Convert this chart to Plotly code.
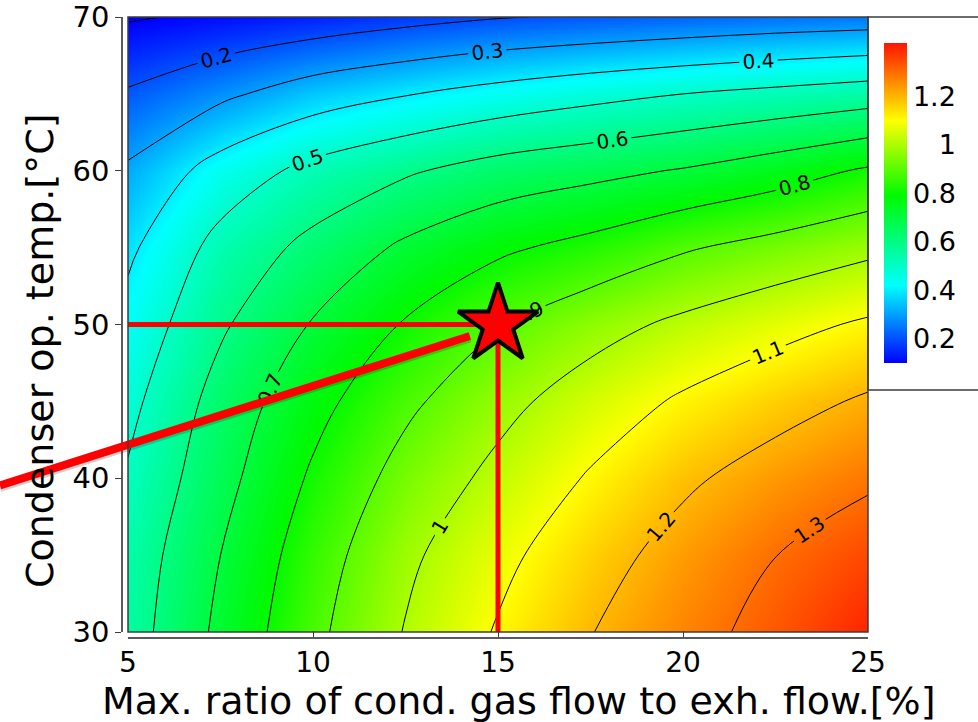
import plotly.graph_objects as go

# ---------------- data ----------------
x_ratio = [5, 7.5, 10, 12.5, 15, 17.5, 20, 22.5, 25]          # Max. ratio [%]
y_temp = [30, 35, 40, 45, 50, 55, 60, 65, 70]                  # Condenser temp [°C]

z_30 = [0.554, 0.722, 0.877, 1.005, 1.108, 1.197, 1.267, 1.330, 1.400]
z_35 = [0.540, 0.700, 0.853, 0.981, 1.075, 1.162, 1.235, 1.299, 1.350]
z_40 = [0.510, 0.667, 0.814, 0.936, 1.025, 1.109, 1.184, 1.240, 1.286]
z_45 = [0.473, 0.638, 0.768, 0.880, 0.971, 1.047, 1.113, 1.165, 1.212]
z_50 = [0.431, 0.586, 0.707, 0.808, 0.893, 0.964, 1.020, 1.069, 1.113]
z_55 = [0.382, 0.533, 0.627, 0.717, 0.783, 0.830, 0.890, 0.934, 0.978]
z_60 = [0.314, 0.441, 0.529, 0.588, 0.641, 0.673, 0.707, 0.754, 0.813]
z_65 = [0.210, 0.280, 0.350, 0.395, 0.435, 0.470, 0.500, 0.525, 0.550]
z_70 = [0.092, 0.115, 0.140, 0.170, 0.195, 0.210, 0.225, 0.240, 0.250]
z_grid = [z_30, z_35, z_40, z_45, z_50, z_55, z_60, z_65, z_70]

contour_start, contour_end, contour_step = 0.1, 1.3, 0.1
color_min, color_max = 0.1, 1.42

x_ticks = [5, 10, 15, 20, 25]
y_ticks = [30, 40, 50, 60, 70]
cbar_ticks = [0.2, 0.4, 0.6, 0.8, 1.0, 1.2]
cbar_text = ["0.2", "0.4", "0.6", "0.8", "\u00a0\u00a0\u00a01", "1.2"]

op_x, op_y = 15, 50                       # selected operating point
leader_from = (14.24, 49.25)              # leader line start (data units)
leader_to = (1.54, 39.53)                 # leader line end (outside the axes)

x_title = "Max. ratio of cond. gas flow to exh. flow.[%]"
y_title = "Condenser op. temp.[°C]"

# ---------------- figure ----------------
FONT = "DejaVu Sans"
W, H = 978, 722
ML, MR, MT, MB = 122, 110, 17, 84
PW, PH = W - ML - MR, H - MT - MB
xdom = [6 / PW, 1.0]
ydom = [6 / PH, 1.0]

jet = [
    [0.0, "rgb(0,0,255)"],
    [0.242, "rgb(0,255,255)"],
    [0.523, "rgb(0,250,0)"],
    [0.758, "rgb(255,255,0)"],
    [1.0, "rgb(255,20,0)"],
]

fig = go.Figure()
fig.add_trace(go.Heatmap(
    x=x_ratio, y=y_temp, z=z_grid, zsmooth="best",
    colorscale=jet, zmin=color_min, zmax=color_max,
    colorbar=dict(
        x=(884 - ML) / PW, xanchor="left",
        y=(H - MB - 203) / PH, yanchor="middle",
        lenmode="pixels", len=320, thickness=23,
        outlinewidth=0, ticks="", xpad=0, ypad=0,
        tickvals=cbar_ticks, ticktext=cbar_text,
        tickfont=dict(family=FONT, size=27, color="black"),
    ),
    hoverinfo="skip",
))
fig.add_trace(go.Contour(
    x=x_ratio, y=y_temp, z=z_grid,
    contours=dict(start=contour_start, end=contour_end, size=contour_step,
                  coloring="none", showlabels=True,
                  labelfont=dict(family=FONT, size=20, color="black")),
    line=dict(color="black", width=1, smoothing=1.0),
    showscale=False, hoverinfo="skip",
))
# crosshair
fig.add_trace(go.Scatter(x=[x_ratio[0], op_x], y=[op_y, op_y], mode="lines",
                         line=dict(color="rgb(255,0,0)", width=5), hoverinfo="skip"))
fig.add_trace(go.Scatter(x=[op_x, op_x], y=[y_temp[0], op_y], mode="lines",
                         line=dict(color="rgb(255,0,0)", width=5), hoverinfo="skip"))
fig.add_trace(go.Scatter(x=[op_x], y=[op_y], mode="markers",
                         marker=dict(symbol="star", size=60, color="rgb(255,0,0)",
                                     line=dict(color="black", width=4)),
                         hoverinfo="skip"))


def px_paper(xv):
    return xdom[0] + (xv - x_ratio[0]) / (x_ratio[-1] - x_ratio[0]) * (xdom[1] - xdom[0])


def py_paper(yv):
    return ydom[0] + (yv - y_temp[0]) / (y_temp[-1] - y_temp[0]) * (ydom[1] - ydom[0])


shapes = []
# leader line shadow + line
shapes.append(dict(type="line", xref="paper", yref="paper",
                   x0=px_paper(leader_from[0]), y0=py_paper(leader_from[1]) - 0.004,
                   x1=px_paper(leader_to[0]), y1=py_paper(leader_to[1]) - 0.004,
                   line=dict(color="rgba(0,0,0,0.18)", width=8)))
shapes.append(dict(type="line", xref="paper", yref="paper",
                   x0=px_paper(leader_from[0]), y0=py_paper(leader_from[1]),
                   x1=px_paper(leader_to[0]), y1=py_paper(leader_to[1]),
                   line=dict(color="rgb(255,0,0)", width=8)))
# plot frame
shapes.append(dict(type="rect", xref="x domain", yref="y domain", x0=0, x1=1, y0=0, y1=1,
                   line=dict(color="rgb(60,60,60)", width=1.5)))
# colorbar box
shapes.append(dict(type="rect", xref="paper", yref="paper",
                   x0=1.0, x1=1.3, y0=(H - MB - 390) / PH, y1=1.0,
                   line=dict(color="rgb(60,60,60)", width=1.5)))

fig.update_layout(
    width=W, height=H,
    margin=dict(l=ML, r=MR, t=MT, b=MB, autoexpand=False),
    paper_bgcolor="white", plot_bgcolor="white",
    showlegend=False,
    font=dict(family=FONT, color="black"),
    shapes=shapes,
    xaxis=dict(domain=xdom, anchor="free", position=0, range=[5, 25],
               tickvals=x_ticks, ticks="inside", ticklen=6, tickcolor="rgb(60,60,60)",
               showline=True, linecolor="rgb(90,90,90)", linewidth=1.5,
               showgrid=False, zeroline=False, automargin=False,
               ticklabeloverflow="allow",
               tickfont=dict(family=FONT, size=28, color="black")),
    yaxis=dict(domain=ydom, anchor="free", position=0, range=[30, 70],
               tickvals=y_ticks, ticks="outside", ticklen=6, tickcolor="rgb(60,60,60)",
               showline=True, linecolor="rgb(90,90,90)", linewidth=1.5,
               showgrid=False, zeroline=False, automargin=False,
               ticklabeloverflow="allow",
               tickfont=dict(family=FONT, size=29, color="black")),
    annotations=[
        dict(text=x_title, xref="paper", yref="paper",
             x=(519 - ML) / PW, y=(H - MB - 701) / PH,
             xanchor="center", yanchor="middle", showarrow=False,
             font=dict(family=FONT, size=38, color="black")),
        dict(text=y_title, xref="paper", yref="paper", textangle=-90,
             x=(40 - ML) / PW, y=(H - MB - 351) / PH,
             xanchor="center", yanchor="middle", showarrow=False,
             font=dict(family=FONT, size=38, color="black")),
    ],
)

fig.write_html("out.html")
